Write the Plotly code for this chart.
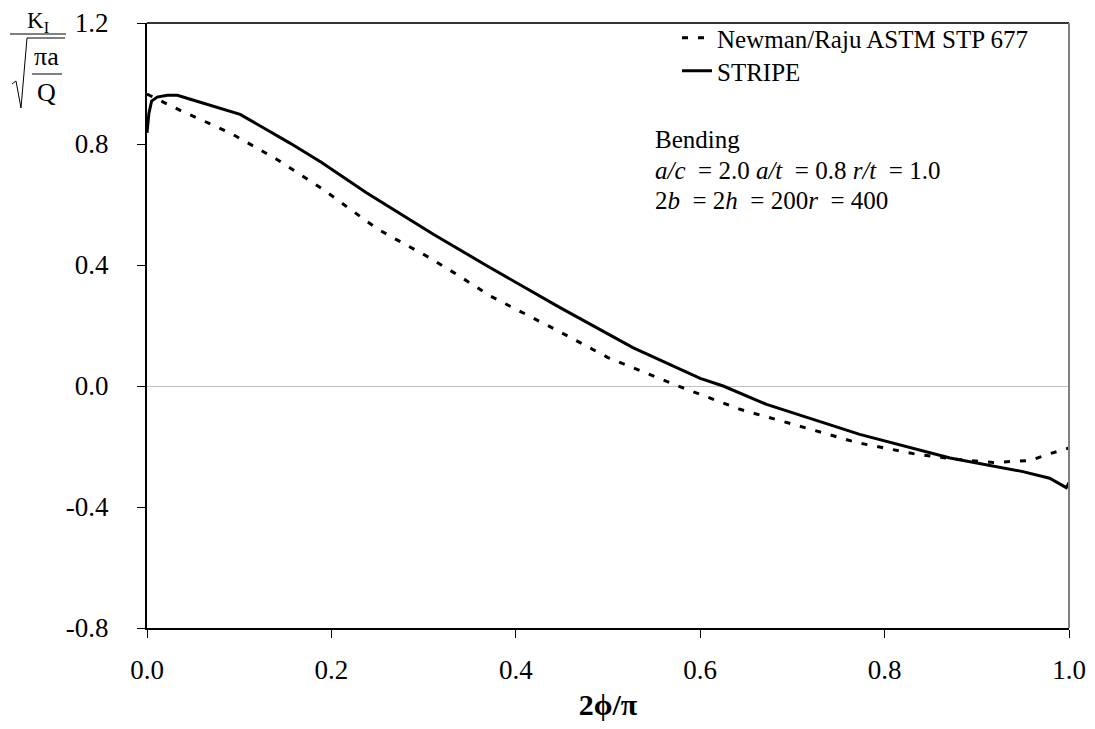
import plotly.graph_objects as go

# ---- data ----
newman_x = [0.0, 0.036, 0.09, 0.141, 0.191, 0.249, 0.267, 0.303, 0.336, 0.372, 0.446, 0.50,
            0.576, 0.643, 0.70, 0.77, 0.835, 0.88, 0.918, 0.958, 0.979, 1.0]
newman_y = [0.965, 0.911, 0.837, 0.749, 0.650, 0.521, 0.49, 0.43, 0.369, 0.298, 0.182, 0.094,
            0.0, -0.077, -0.126, -0.187, -0.226, -0.243, -0.253, -0.246, -0.224, -0.205]

stripe_x = [0.0, 0.002, 0.005, 0.011, 0.022, 0.033, 0.047, 0.101, 0.155, 0.189, 0.238, 0.311,
            0.37, 0.426, 0.448, 0.527, 0.60, 0.625, 0.672, 0.773, 0.871, 0.95, 0.979, 0.997, 1.0]
stripe_y = [0.837, 0.90, 0.942, 0.955, 0.961, 0.961, 0.948, 0.898, 0.803, 0.740, 0.639, 0.501,
            0.395, 0.297, 0.259, 0.127, 0.025, 0.0, -0.061, -0.160, -0.238, -0.283, -0.305, -0.336, -0.32]

x_ticks = [0.0, 0.2, 0.4, 0.6, 0.8, 1.0]
x_ticklabels = ["0.0", "0.2", "0.4", "0.6", "0.8", "1.0"]
y_ticks = [1.2, 0.8, 0.4, 0.0, -0.4, -0.8]
y_ticklabels = ["1.2", "0.8", "0.4", "0.0", "-0.4", "-0.8"]

series_names = ["Newman/Raju ASTM STP 677", "STRIPE"]
note_lines = ["Bending",
              "<i>a/c</i>  = 2.0 <i>a/t</i>  = 0.8 <i>r/t</i>  = 1.0",
              "2<i>b</i>  = 2<i>h</i>  = 200<i>r</i>  = 400"]

# ---- layout geometry (pixels, figure coordinates) ----
W, H = 1095, 729
OFF = 8  # page body margin
L, R, T, B = 147, 1069, 23, 628
FONT = "Liberation Serif, Times New Roman, Times, serif"


def px(xp):
    return (xp - L) / (R - L)


def py(yp):
    return (B - yp) / (B - T)


fig = go.Figure()
fig.add_trace(go.Scatter(x=newman_x, y=newman_y, mode="lines", name=series_names[0],
                         line=dict(color="black", width=3, dash="6px,10px"),
                         legend="legend"))
fig.add_trace(go.Scatter(x=stripe_x, y=stripe_y, mode="lines", name=series_names[1],
                         line=dict(color="black", width=3), legend="legend2"))

shapes = [
    # top and right frame
    dict(type="line", xref="paper", yref="paper", x0=0, x1=1, y0=1, y1=1,
         line=dict(color="#333333", width=2)),
    dict(type="line", xref="paper", yref="paper", x0=1, x1=1, y0=0, y1=1,
         line=dict(color="#808080", width=2)),
    # y-axis label fraction
    dict(type="line", xref="paper", yref="paper", x0=px(10), x1=px(66), y0=py(34), y1=py(34),
         line=dict(color="black", width=1)),
    dict(type="path", xref="paper", yref="paper",
         path=f"M {px(12)} {py(84)} L {px(16)} {py(81)} L {px(21)} {py(108)} L {px(27)} {py(38)} L {px(65)} {py(38)}",
         line=dict(color="black", width=1)),
    dict(type="line", xref="paper", yref="paper", x0=px(32), x1=px(62), y0=py(74), y1=py(74),
         line=dict(color="black", width=1)),
]

annotations = [
    dict(text="K<sub>I</sub>", x=px(38), y=py(22), xref="paper", yref="paper",
         xanchor="center", yanchor="middle",
         showarrow=False, font=dict(family=FONT, size=23, color="black")),
    dict(text="πa", x=px(46), y=py(56), xref="paper", yref="paper",
         xanchor="center", yanchor="middle",
         showarrow=False, font=dict(family=FONT, size=26, color="black")),
    dict(text="Q", x=px(46), y=py(93), xref="paper", yref="paper",
         xanchor="center", yanchor="middle",
         showarrow=False, font=dict(family=FONT, size=26, color="black")),
]
for line, yp in zip(note_lines, [139, 170, 200]):
    annotations.append(dict(text=line, x=px(653), y=py(yp), xref="paper", yref="paper",
                            xanchor="left", yanchor="middle", showarrow=False,
                            font=dict(family=FONT, size=25, color="black")))

legend_style = dict(xanchor="left", yanchor="middle", bgcolor="rgba(0,0,0,0)",
                    font=dict(family=FONT, size=25, color="black"))

fig.update_layout(
    width=W, height=H,
    margin=dict(l=L - OFF, r=W - R + OFF, t=T - OFF, b=H - B + OFF, autoexpand=False),
    paper_bgcolor="white", plot_bgcolor="white",
    font=dict(family=FONT, size=20, color="black"),
    showlegend=True,
    legend=dict(x=px(677), y=py(38), **legend_style),
    legend2=dict(x=px(677), y=py(71), **legend_style),
    shapes=shapes,
    annotations=annotations,
    xaxis=dict(range=[0, 1], tickvals=x_ticks, ticktext=x_ticklabels,
               showgrid=False, zeroline=False, showline=True, linecolor="black", linewidth=2,
               ticks="outside", ticklen=8, tickwidth=1, tickcolor="black",
               tickfont=dict(family=FONT, size=27, color="black"), ticklabelstandoff=9,
               title=dict(text="<b>2ϕ/π</b>", font=dict(family=FONT, size=30, color="black"),
                          standoff=10)),
    yaxis=dict(range=[-0.8, 1.2], tickvals=y_ticks, ticktext=y_ticklabels,
               showgrid=False, zeroline=True, zerolinecolor="#C0C0C0", zerolinewidth=1,
               showline=True, linecolor="black", linewidth=2,
               ticks="outside", ticklen=8, tickwidth=1, tickcolor="black",
               tickfont=dict(family=FONT, size=27, color="black"), ticklabelstandoff=23),
)

fig.write_html("out.html")
